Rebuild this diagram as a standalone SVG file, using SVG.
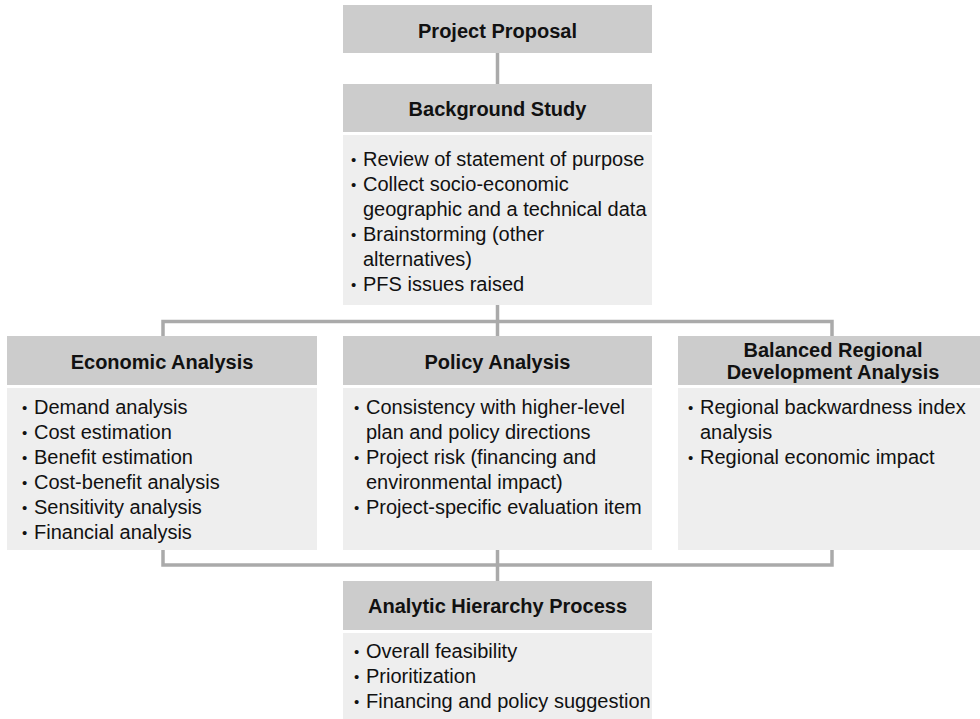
<svg xmlns="http://www.w3.org/2000/svg" width="980" height="719" viewBox="0 0 980 719">
<style>
.hd{fill:#cccccc}
.bd{fill:#eeeeee}
.ht{font-family:"Liberation Sans",Arial,sans-serif;font-size:20px;font-weight:bold;fill:#111;text-anchor:middle}
.bt{font-family:"Liberation Sans",Arial,sans-serif;font-size:20px;fill:#111}
.bl{font-family:"Liberation Sans",Arial,sans-serif;font-size:15px;fill:#111}
.cn{stroke:#aaaaaa;stroke-width:3.5;fill:none}
</style>
<rect width="980" height="719" fill="#ffffff"/>
<g id="connectors">
<line class="cn" x1="497.5" y1="53" x2="497.5" y2="84"/>
<line class="cn" x1="497.5" y1="305" x2="497.5" y2="336"/>
<polyline class="cn" points="163,336 163,321.5 832,321.5 832,336"/>
<polyline class="cn" points="163,550 163,565 832,565 832,550"/>
<line class="cn" x1="497.5" y1="550" x2="497.5" y2="581"/>
</g>
<g id="project-proposal">
<rect class="hd" x="343" y="5" width="309" height="48"/>
<text class="ht" x="497.5" y="37.5">Project Proposal</text>
</g>
<g id="background-study">
<rect class="hd" x="343" y="84" width="309" height="48"/>
<text class="ht" x="497.5" y="116">Background Study</text>
<rect class="bd" x="343" y="135" width="309" height="170"/>
<text class="bl" x="351" y="165">•</text><text class="bt" x="363" y="166">Review of statement of purpose</text>
<text class="bl" x="351" y="190">•</text><text class="bt" x="363" y="191">Collect socio-economic</text>
<text class="bt" x="363" y="216">geographic and a technical data</text>
<text class="bl" x="351" y="240">•</text><text class="bt" x="363" y="241">Brainstorming (other</text>
<text class="bt" x="363" y="266">alternatives)</text>
<text class="bl" x="351" y="290">•</text><text class="bt" x="363" y="291">PFS issues raised</text>
</g>
<g id="economic-analysis">
<rect class="hd" x="7" y="336" width="310" height="49"/>
<text class="ht" x="162" y="368.5">Economic Analysis</text>
<rect class="bd" x="7" y="388" width="310" height="162"/>
<text class="bl" x="22" y="413">•</text><text class="bt" x="34" y="414">Demand analysis</text>
<text class="bl" x="22" y="438">•</text><text class="bt" x="34" y="439">Cost estimation</text>
<text class="bl" x="22" y="463">•</text><text class="bt" x="34" y="464">Benefit estimation</text>
<text class="bl" x="22" y="488">•</text><text class="bt" x="34" y="489">Cost-benefit analysis</text>
<text class="bl" x="22" y="513">•</text><text class="bt" x="34" y="514">Sensitivity analysis</text>
<text class="bl" x="22" y="538">•</text><text class="bt" x="34" y="539">Financial analysis</text>
</g>
<g id="policy-analysis">
<rect class="hd" x="343" y="336" width="309" height="49"/>
<text class="ht" x="497.5" y="368.5">Policy Analysis</text>
<rect class="bd" x="343" y="388" width="309" height="162"/>
<text class="bl" x="354" y="413">•</text><text class="bt" x="366" y="414">Consistency with higher-level</text>
<text class="bt" x="366" y="439">plan and policy directions</text>
<text class="bl" x="354" y="463">•</text><text class="bt" x="366" y="464">Project risk (financing and</text>
<text class="bt" x="366" y="489">environmental impact)</text>
<text class="bl" x="354" y="513">•</text><text class="bt" x="366" y="514">Project-specific evaluation item</text>
</g>
<g id="balanced-regional">
<rect class="hd" x="678" y="336" width="310" height="49"/>
<text class="ht" x="833" y="357">Balanced Regional</text>
<text class="ht" x="833" y="379">Development Analysis</text>
<rect class="bd" x="678" y="388" width="310" height="162"/>
<text class="bl" x="688" y="413">•</text><text class="bt" x="700" y="414">Regional backwardness index</text>
<text class="bt" x="700" y="439">analysis</text>
<text class="bl" x="688" y="463">•</text><text class="bt" x="700" y="464">Regional economic impact</text>
</g>
<g id="ahp">
<rect class="hd" x="343" y="581" width="309" height="49"/>
<text class="ht" x="497.5" y="613">Analytic Hierarchy Process</text>
<rect class="bd" x="343" y="633" width="309" height="86"/>
<text class="bl" x="354" y="657">•</text><text class="bt" x="366" y="658">Overall feasibility</text>
<text class="bl" x="354" y="682">•</text><text class="bt" x="366" y="683">Prioritization</text>
<text class="bl" x="354" y="707">•</text><text class="bt" x="366" y="708">Financing and policy suggestion</text>
</g>
</svg>
